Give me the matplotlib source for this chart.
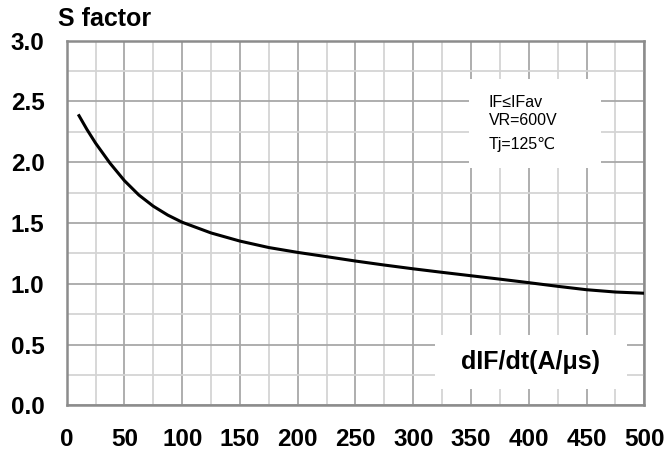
import matplotlib
matplotlib.use("Agg")
import matplotlib.pyplot as plt
from matplotlib.ticker import MultipleLocator

plt.rcParams['font.family'] = ['Liberation Sans', 'DejaVu Sans']

# Softness factor versus current slope
dif_dt = [10, 17.5, 25, 37.5, 50, 62.5, 75, 87.5, 100, 125, 150, 175, 200, 225, 250,
          275, 300, 325, 350, 375, 400, 425, 450, 475, 500]
s_factor = [2.394, 2.270, 2.157, 1.992, 1.848, 1.730, 1.638, 1.565, 1.506, 1.418,
            1.351, 1.298, 1.258, 1.223, 1.187, 1.154, 1.123, 1.094, 1.066, 1.038,
            1.009, 0.979, 0.951, 0.932, 0.922]

x_ticks = [0, 50, 100, 150, 200, 250, 300, 350, 400, 450, 500]
y_ticks = [0.0, 0.5, 1.0, 1.5, 2.0, 2.5, 3.0]
condition_lines = ["IF≤IFav", "VR=600V", "Tj=125℃"]
x_label = "dIF/dt(A/μs)"
y_label = "S factor"

W, H = 669, 455
fig = plt.figure(figsize=(W / 100, H / 100), dpi=100)
left, right, top, bottom = 66.7, 644.3, 40.7, 405.3
ax = fig.add_axes([left / W, 1 - bottom / H, (right - left) / W, (bottom - top) / H])

ax.set_xlim(0, 500)
ax.set_ylim(0, 3.0)
ax.set_xticks(x_ticks)
ax.set_yticks(y_ticks)
ax.set_xticklabels([str(v) for v in x_ticks])
ax.set_yticklabels([f"{v:.1f}" for v in y_ticks])
ax.xaxis.set_minor_locator(MultipleLocator(25))
ax.yaxis.set_minor_locator(MultipleLocator(0.25))

ax.grid(which='major', color='#a8a8a8', linewidth=1.3, zorder=0)
ax.grid(which='minor', color='#d4d4d4', linewidth=1.3, zorder=0)
ax.set_axisbelow(True)

ax.tick_params(which='both', length=0)
ax.tick_params(axis='x', pad=16, labelsize=17.5)
ax.tick_params(axis='y', pad=16, labelsize=17.5)
for lab in ax.get_xticklabels() + ax.get_yticklabels():
    lab.set_fontweight('bold')

for sp in ax.spines.values():
    sp.set_color('#8c8c8c')
    sp.set_linewidth(1.8)

ax.plot(dif_dt, s_factor, color='black', linewidth=2.2, zorder=3,
        solid_capstyle='butt', solid_joinstyle='round')

# Conditions box
fig.patches.append(plt.Rectangle((469.3 / W, 1 - 168.3 / H), (601 - 469.3) / W,
                                 (168.3 - 79.3) / H, transform=fig.transFigure,
                                 facecolor='white', edgecolor='none', zorder=2))
for txt, yp in zip(condition_lines, [102.7, 120.7, 145]):
    fig.text(489 / W, 1 - yp / H, txt, fontsize=11.5, va='center', ha='left', zorder=4)

# Axis title box
fig.patches.append(plt.Rectangle((435 / W, 1 - 389 / H), (626.7 - 435) / W,
                                 (389 - 335) / H, transform=fig.transFigure,
                                 facecolor='white', edgecolor='none', zorder=2))
fig.text(531 / W, 1 - 362 / H, x_label, fontsize=18, fontweight='bold',
         ha='center', va='center', zorder=4)

fig.text(58 / W, 1 - 26 / H, y_label, fontsize=18, fontweight='bold',
         ha='left', va='baseline')

fig.savefig("out.png", dpi=100)
